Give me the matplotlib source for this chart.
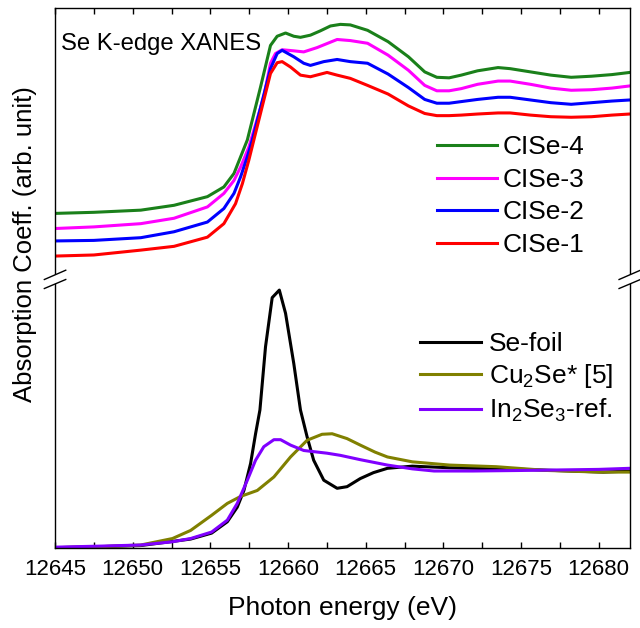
import matplotlib
matplotlib.use("Agg")
import matplotlib.pyplot as plt
from matplotlib.ticker import MultipleLocator, FormatStrFormatter
from matplotlib.patches import Polygon

plt.rcParams['font.family'] = ['Liberation Sans', 'DejaVu Sans']
plt.rcParams['mathtext.fontset'] = 'custom'
plt.rcParams['mathtext.rm'] = 'Liberation Sans'

# Se K-edge XANES, upper stack (offset samples)
e_post = [12665.12, 12666.44, 12667.75, 12668.8, 12669.58, 12670.37, 12671.15, 12672.2,
          12673.52, 12674.3, 12675.61, 12676.92, 12678.23, 12679.54, 12680.85, 12682]

e_cise4 = [12645, 12647.5, 12650.52, 12652.66, 12654.81, 12655.87, 12656.52, 12656.95, 12657.38,
           12658.23, 12658.87, 12659.3, 12659.84, 12660.37, 12660.8, 12661.44, 12662.08, 12662.73,
           12663.37, 12664.01] + e_post
cise4 = [6.20, 6.22, 6.26, 6.35, 6.51, 6.69, 6.94, 7.25, 7.56,
         8.54, 9.31, 9.48, 9.54, 9.48, 9.46, 9.50, 9.58, 9.67,
         9.70, 9.69,
         9.59, 9.38, 9.10, 8.82, 8.72, 8.71, 8.76, 8.84, 8.90, 8.88, 8.82, 8.76, 8.72, 8.74, 8.77, 8.81]

e_cise3 = [12645, 12647.5, 12650.52, 12652.66, 12654.81, 12655.87, 12656.52, 12656.95, 12657.48,
           12658.44, 12658.87, 12659.19, 12659.62, 12660.37, 12661.01, 12661.87, 12663.16,
           12664.01] + e_post
cise3 = [5.92, 5.95, 6.01, 6.11, 6.32, 6.57, 6.81, 7.06, 7.43,
         8.36, 8.98, 9.16, 9.23, 9.21, 9.19, 9.27, 9.42,
         9.40,
         9.35, 9.13, 8.85, 8.57, 8.47, 8.47, 8.51, 8.59, 8.65, 8.65, 8.59, 8.52, 8.48, 8.49, 8.52, 8.56]

e_cise2 = [12645, 12647.5, 12650.52, 12652.66, 12654.81, 12655.87, 12656.52, 12656.95, 12657.38,
           12657.7, 12658.87, 12659.3, 12659.62, 12660.37, 12661.01, 12661.44, 12662.3, 12663.16,
           12664.01] + e_post
cise2 = [5.69, 5.70, 5.75, 5.86, 6.04, 6.29, 6.57, 6.88, 7.25,
         7.56, 8.88, 9.16, 9.22, 9.10, 8.98, 8.94, 9.01, 9.05,
         9.01,
         8.98, 8.78, 8.53, 8.31, 8.24, 8.24, 8.27, 8.31, 8.35, 8.35, 8.30, 8.25, 8.22, 8.25, 8.28, 8.30]

e_cise1 = [12645, 12647.5, 12650.52, 12652.66, 12654.81, 12655.87, 12656.62, 12657.06, 12657.48,
           12657.8, 12658.87, 12659.3, 12659.62, 12660.16, 12660.8, 12661.44, 12662.51, 12663.16,
           12664.01] + e_post
cise1 = [5.41, 5.43, 5.52, 5.59, 5.76, 6.01, 6.38, 6.75, 7.19,
         7.56, 8.79, 8.99, 9.01, 8.91, 8.76, 8.73, 8.81, 8.76,
         8.70,
         8.57, 8.41, 8.19, 8.05, 8.01, 8.01, 8.02, 8.04, 8.06, 8.06, 8.02, 7.99, 7.98, 7.99, 8.02, 8.04]

# references, lower part
e_foil = [12645, 12648, 12650.52, 12653.73, 12655.08, 12656.09, 12656.73, 12657.16, 12657.59,
          12657.91, 12658.19, 12658.55, 12658.98, 12659.44, 12659.84, 12660.37, 12660.8, 12661.23,
          12661.65, 12662.3, 12663.16, 12663.8, 12664.65, 12665.5, 12666.4, 12668.0, 12670.4,
          12675.1, 12680.3, 12682]
se_foil = [0.01, 0.03, 0.05, 0.17, 0.28, 0.49, 0.76, 1.07, 1.57,
           2.12, 2.56, 3.73, 4.64, 4.78, 4.35, 3.42, 2.56, 2.06,
           1.63, 1.26, 1.11, 1.14, 1.29, 1.40, 1.48, 1.52, 1.49,
           1.46, 1.41, 1.43]

e_cu2se = [12645, 12648, 12650.52, 12652.56, 12653.73, 12655.08, 12656.09, 12656.95, 12658.02,
           12659.09, 12660.16, 12661.23, 12662.19, 12662.84, 12663.8, 12664.65, 12665.6, 12666.4,
           12668.0, 12670.4, 12673.4, 12676.7, 12680, 12682]
cu2se = [0.01, 0.03, 0.06, 0.18, 0.33, 0.61, 0.83, 0.96, 1.07,
         1.32, 1.69, 2.00, 2.11, 2.12, 2.03, 1.91, 1.78, 1.69,
         1.60, 1.54, 1.51, 1.44, 1.41, 1.41]

e_in2se3 = [12645, 12648, 12650.52, 12652.56, 12653.73, 12655.08, 12656.09, 12656.73, 12657.38,
            12657.91, 12658.44, 12659.09, 12659.52, 12660.16, 12661.01, 12662.51, 12663.37,
            12664.65, 12666.4, 12668.0, 12669.4, 12671.9, 12675, 12680, 12682]
in2se3 = [0.02, 0.04, 0.06, 0.12, 0.18, 0.30, 0.52, 0.83, 1.26,
          1.63, 1.88, 2.01, 2.01, 1.91, 1.81, 1.76, 1.72,
          1.64, 1.54, 1.47, 1.43, 1.43, 1.44, 1.46, 1.48]

fig = plt.figure(figsize=(6.4, 6.28), dpi=100)
ax = fig.add_axes([0.086, 0.127, 0.898, 0.86])

lw = 2.2
h4, = ax.plot(e_cise4, cise4, color='#1a801a', lw=lw, label='CISe-4')
h3, = ax.plot(e_cise3, cise3, color='#ff00ff', lw=lw, label='CISe-3')
h2, = ax.plot(e_cise2, cise2, color='#0000ff', lw=lw, label='CISe-2')
h1, = ax.plot(e_cise1, cise1, color='#ff0000', lw=lw, label='CISe-1')

hf, = ax.plot(e_foil, se_foil, color='black', lw=lw, label='Se-foil')
hc, = ax.plot(e_cu2se, cu2se, color='#808000', lw=lw, label=r'Cu$_\mathregular{2}$Se* [5]')
hi, = ax.plot(e_in2se3, in2se3, color='#8000ff', lw=lw, label=r'In$_\mathregular{2}$Se$_\mathregular{3}$-ref.')

ax.set_xlim(12645, 12682)
ax.set_ylim(0, 10)
ax.xaxis.set_major_locator(MultipleLocator(5))
ax.xaxis.set_minor_locator(MultipleLocator(2.5))
ax.xaxis.set_major_formatter(FormatStrFormatter('%d'))
ax.set_yticks([])
ax.tick_params(which='both', direction='in', top=True, bottom=True, length=4.5, width=1,
               labelsize=16, pad=8)
for s in ax.spines.values():
    s.set_linewidth(1.0)

ax.set_xlabel('Photon energy (eV)', fontsize=19, labelpad=11)
ax.set_ylabel('Absorption Coeff. (arb. unit)', fontsize=18.5)
ax.yaxis.set_label_coords(-0.031, 0.563)

ax.text(0.01, 0.933, 'Se K-edge XANES', transform=ax.transAxes, fontsize=17.2,
        ha='left', va='center')

leg1 = ax.legend(handles=[h4, h3, h2, h1], loc='center left', bbox_to_anchor=(0.664, 0.652),
                 frameon=False, fontsize=19, handlelength=2.3, handletextpad=0.2,
                 labelspacing=0.32, borderpad=0, borderaxespad=0)
ax.add_artist(leg1)
ax.legend(handles=[hf, hc, hi], loc='center left', bbox_to_anchor=(0.635, 0.315),
          frameon=False, fontsize=19, handlelength=2.3, handletextpad=0.3,
          labelspacing=0.25, borderpad=0, borderaxespad=0)

# axis break marks on both spines
for x0 in (0, 1):
    dx = 0.0186
    gap = Polygon([[x0 - dx, 0.4976], [x0 + dx, 0.5148], [x0 + dx, 0.4976], [x0 - dx, 0.4809]],
                  closed=True, transform=ax.transAxes, facecolor='white', edgecolor='none',
                  clip_on=False, zorder=5)
    ax.add_patch(gap)
    ax.plot([x0 - dx, x0 + dx], [0.4976, 0.5148], transform=ax.transAxes, color='black',
            lw=1.0, clip_on=False, zorder=6)
    ax.plot([x0 - dx, x0 + dx], [0.4809, 0.4976], transform=ax.transAxes, color='black',
            lw=1.0, clip_on=False, zorder=6)

fig.savefig('out.png', dpi=100)
